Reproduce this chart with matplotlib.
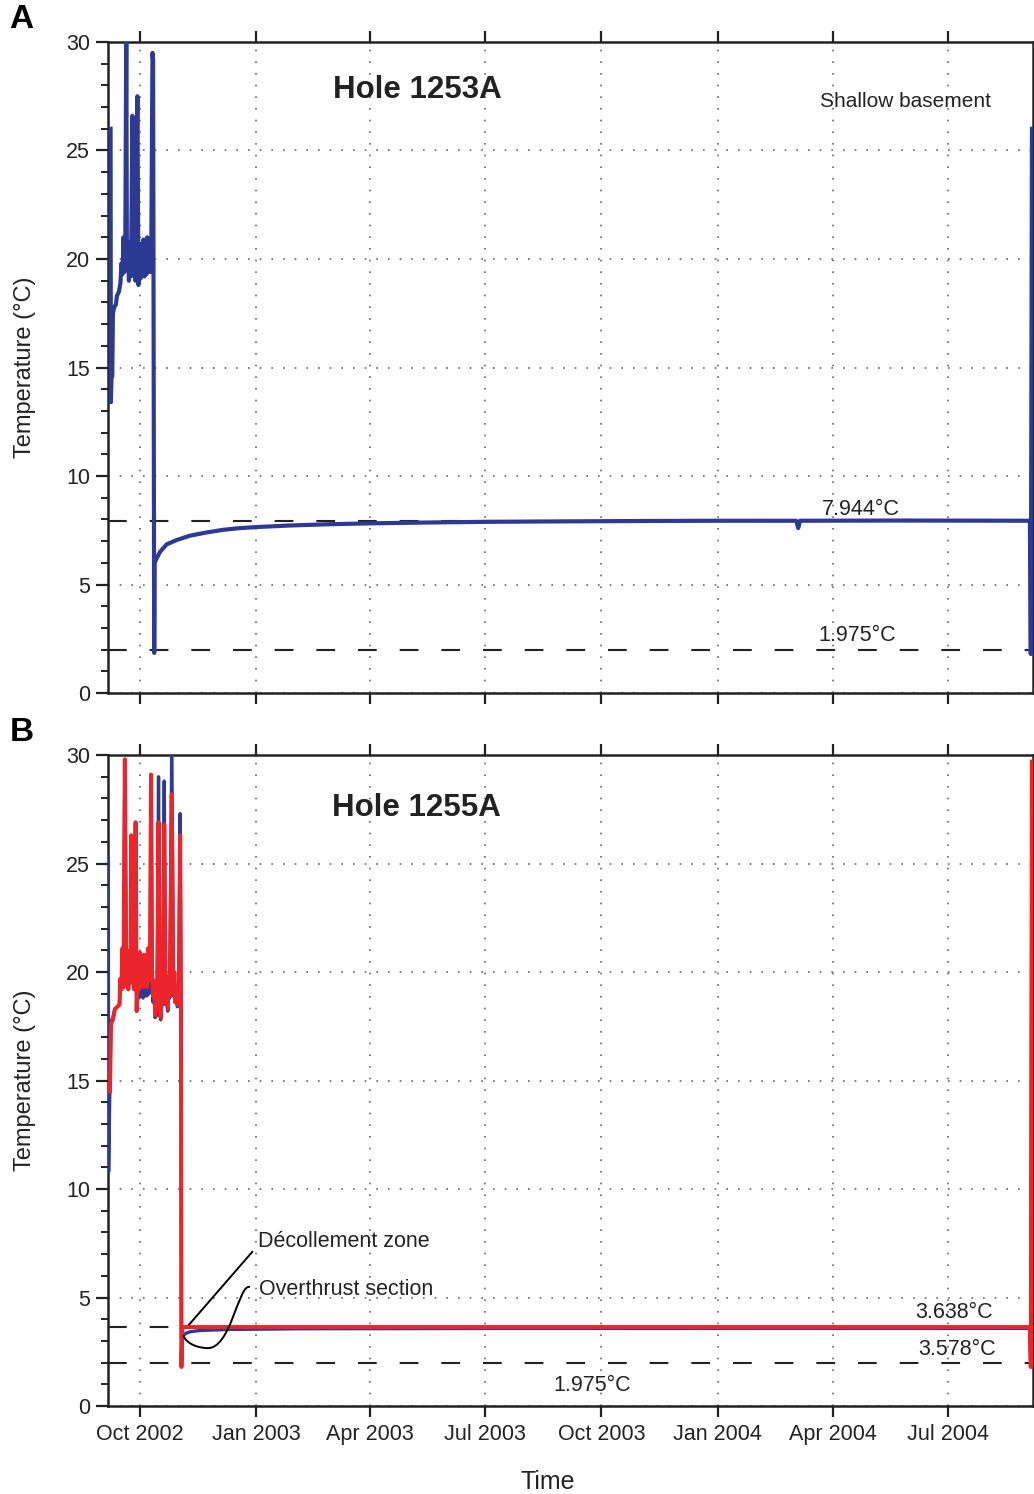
import pandas as pd
import numpy as np
import matplotlib
matplotlib.use('Agg')
import matplotlib.pyplot as plt
import matplotlib.dates as mdates
from matplotlib.path import Path
from matplotlib.patches import PathPatch

plt.rcParams['font.family'] = ['Liberation Sans', 'DejaVu Sans']

# --- Hole 1253A (shallow basement) ---
times_a = ['2002-09-07 19:00', '2002-09-08 00:00', '2002-09-08 12:00', '2002-09-09 03:00',
           '2002-09-09 15:00', '2002-09-10 19:00', '2002-09-12 00:00', '2002-09-12 19:00',
           '2002-09-14 10:00', '2002-09-15 14:00', '2002-09-16 10:00', '2002-09-17 05:00',
           '2002-09-18 00:00', '2002-09-18 17:00', '2002-09-19 10:00', '2002-09-20 05:00',
           '2002-09-20 17:00', '2002-09-21 12:00', '2002-09-22 07:00', '2002-09-23 02:00',
           '2002-09-23 22:00', '2002-09-25 02:00', '2002-09-25 22:00', '2002-09-26 17:00',
           '2002-09-27 10:00', '2002-09-29 00:00', '2002-09-29 19:00', '2002-09-30 14:00',
           '2002-10-01 10:00', '2002-10-02 05:00', '2002-10-03 00:00', '2002-10-03 19:00',
           '2002-10-04 14:00', '2002-10-05 10:00', '2002-10-06 05:00', '2002-10-06 19:00',
           '2002-10-07 14:00', '2002-10-08 10:00', '2002-10-09 05:00', '2002-10-10 00:00',
           '2002-10-10 22:00', '2002-10-11 10:00', '2002-10-12 07:00', '2002-10-12 14:00',
           '2002-10-14 05:00', '2002-10-16 19:00', '2002-10-22 02:00', '2002-10-30 00:00',
           '2002-11-09 12:00', '2002-11-22 17:00', '2002-12-05 14:00', '2002-12-19 00:00',
           '2003-01-01 12:00', '2003-01-27 00:00', '2003-02-28 00:00', '2003-04-01 00:00',
           '2003-05-18 00:00', '2003-07-02 00:00', '2003-08-29 00:00', '2003-11-08 00:00',
           '2004-01-03 00:00', '2004-03-03 00:00', '2004-03-04 14:00', '2004-03-06 00:00',
           '2004-05-24 00:00', '2004-09-03 19:00', '2004-09-04 12:00', '2004-09-05 10:00']
temp_a = [26.0, 13.4, 14.5, 14.6,
          17.5, 17.8, 17.9, 18.3,
          18.5, 18.9, 19.8, 19.3,
          21.0, 19.4, 20.6, 30.5,
          19.6, 20.8, 19.0, 20.3,
          19.2, 26.6, 19.3, 20.5,
          19.0, 27.5, 18.8, 20.4,
          19.1, 20.7, 19.4, 20.9,
          19.2, 20.3, 19.3, 21.0,
          19.5, 20.8, 19.4, 20.6,
          29.5, 29.2, 1.85, 6.0,
          6.2, 6.5, 6.85, 7.05,
          7.25, 7.4, 7.52, 7.6,
          7.65, 7.72, 7.78, 7.82,
          7.86, 7.89, 7.91, 7.93,
          7.94, 7.94, 7.6, 7.94,
          7.95, 7.94, 1.8, 26.0]

# --- Hole 1255A (décollement = red, overthrust = blue) ---
times_b = ['2002-09-08 02:00', '2002-09-09 15:00', '2002-09-11 05:00', '2002-09-13 05:00',
           '2002-09-14 19:00', '2002-09-15 14:00', '2002-09-16 10:00', '2002-09-17 05:00',
           '2002-09-18 00:00', '2002-09-19 02:00', '2002-09-20 05:00', '2002-09-21 00:00',
           '2002-09-21 19:00', '2002-09-22 14:00', '2002-09-23 12:00', '2002-09-24 02:00',
           '2002-09-24 22:00', '2002-09-25 17:00', '2002-09-26 12:00', '2002-09-27 14:00',
           '2002-09-28 10:00', '2002-09-29 05:00', '2002-09-30 05:00', '2002-10-01 00:00',
           '2002-10-01 19:00', '2002-10-02 14:00', '2002-10-03 10:00', '2002-10-04 05:00',
           '2002-10-05 00:00', '2002-10-05 19:00', '2002-10-06 14:00', '2002-10-07 10:00',
           '2002-10-08 05:00', '2002-10-09 00:00', '2002-10-09 19:00', '2002-10-10 14:00',
           '2002-10-11 10:00', '2002-10-12 05:00', '2002-10-13 00:00', '2002-10-13 19:00',
           '2002-10-14 14:00', '2002-10-15 17:00', '2002-10-16 14:00', '2002-10-17 10:00',
           '2002-10-18 05:00', '2002-10-19 00:00', '2002-10-20 05:00', '2002-10-21 07:00',
           '2002-10-22 05:00', '2002-10-23 00:00', '2002-10-23 19:00', '2002-10-24 14:00',
           '2002-10-26 05:00', '2002-10-27 10:00', '2002-10-28 05:00', '2002-10-29 00:00',
           '2002-10-29 19:00', '2002-10-30 14:00', '2002-10-31 17:00', '2002-11-01 19:00',
           '2002-11-02 10:00', '2002-11-02 19:00']
red_b = [17.6, 17.8, 18.3, 18.4,
         18.5, 19.7, 19.2, 21.1,
         19.3, 29.8, 19.4, 21.0,
         19.2, 20.5, 19.5, 26.3,
         19.6, 20.7, 19.2, 26.9,
         18.2, 19.8, 19.2, 20.9,
         19.4, 20.6, 19.3, 20.8,
         19.5, 20.4, 19.3, 21.1,
         19.6, 20.3, 29.1, 20.0,
         18.9, 19.6, 18.0, 19.5,
         18.2, 26.9, 18.5, 17.9,
         19.2, 18.6, 26.8, 18.6,
         19.8, 18.3, 19.5, 18.9,
         28.2, 19.0, 20.0, 18.6,
         19.3, 18.5, 18.9, 26.3,
         18.5, 1.8]
blue_b = [17.7, 17.9, 18.3, 18.4,
          18.5, 19.6, 19.2, 21.0,
          19.3, 29.8, 19.4, 20.8,
          19.2, 20.4, 19.5, 26.3,
          19.6, 20.7, 19.2, 26.9,
          18.2, 19.8, 18.8, 20.5,
          18.9, 20.3, 18.8, 20.4,
          18.9, 20.0, 18.9, 20.6,
          19.0, 19.9, 29.0, 19.7,
          18.6, 19.4, 17.9, 19.3,
          18.0, 29.0, 18.4, 17.8,
          19.0, 18.5, 28.8, 18.5,
          19.6, 18.2, 19.4, 18.8,
          30.5, 18.9, 19.8, 18.6,
          19.1, 18.4, 18.7, 27.3,
          18.4, 3.2]

blue_start_times = ['2002-09-05 23:00', '2002-09-06 06:00', '2002-09-07 07:00']
blue_start_temp = [25.3, 10.8, 15.0]
red_start_times = ['2002-09-07 07:00']
red_start_temp = [14.5]

red_tail_times = ['2002-11-03 14:00', '2004-09-03 19:00', '2004-09-04 12:00', '2004-09-05 10:00']
red_tail_temp = [3.638, 3.638, 1.8, 29.7]
blue_tail_times = ['2002-11-04 05:00', '2002-11-06 10:00', '2002-11-09 12:00', '2002-11-17 12:00',
                   '2002-12-11 00:00', '2003-02-05 00:00', '2003-07-15 00:00', '2004-09-03 19:00',
                   '2004-09-04 12:00', '2004-09-05 10:00']
blue_tail_temp = [3.25, 3.35, 3.42, 3.48, 3.53, 3.56, 3.575, 3.578, 1.8, 28.5]

BLUE = '#2d3a93'
RED = '#ec242c'
INK = '#222222'

def d(s):
    return mdates.date2num(pd.Timestamp(s))

fig = plt.figure(figsize=(10.34, 14.94), dpi=100)
ax_a = fig.add_axes([0.1044, 0.5361, 0.8946, 0.4358])
ax_b = fig.add_axes([0.1044, 0.0589, 0.8946, 0.4357])

for ax in (ax_a, ax_b):
    ax.set_xlim(d('2002-09-05 17:00'), d('2004-09-06 05:00'))
    ax.set_ylim(0, 30)
    ax.set_yticks(np.arange(0, 31, 5))
    ax.set_yticks(np.arange(0, 31, 1), minor=True)
    ax.xaxis.set_major_locator(mdates.MonthLocator(bymonth=[1, 4, 7, 10]))
    ax.xaxis.set_major_formatter(mdates.DateFormatter('%b %Y'))
    ax.tick_params(axis='x', which='major', direction='out', length=8, width=1.6,
                   top=True, labelsize=15.5, pad=5, colors=INK)
    ax.tick_params(axis='y', which='major', direction='out', length=9, width=1.6,
                   labelsize=15.5, pad=4, colors=INK)
    ax.tick_params(axis='y', which='minor', direction='out', length=5, width=1.4, colors=INK)
    ax.grid(True, which='major', color='#666666', linestyle=(0, (1, 6)), linewidth=1.2)
    for s in ax.spines.values():
        s.set_linewidth(1.8)
        s.set_color(INK)
    ax.set_ylabel('Temperature (°C)', fontsize=17, color=INK)
    ax.yaxis.set_label_coords(-0.078, 0.5)

ax_a.tick_params(axis='x', labelbottom=False)

# panel A
ax_a.axhline(7.944, color=INK, lw=1.5, dashes=(9, 11), zorder=2)
ax_a.axhline(1.975, color=INK, lw=1.5, dashes=(9, 11), zorder=2)
ax_a.plot(pd.to_datetime(times_a), temp_a, color=BLUE, lw=3.0, zorder=3)
ax_a.text(0.334, 0.926, 'Hole 1253A', transform=ax_a.transAxes, fontsize=22.5,
          fontweight='bold', ha='center', va='center', color=INK)
ax_a.text(0.862, 0.908, 'Shallow basement', transform=ax_a.transAxes, fontsize=15,
          ha='center', va='center', color=INK)
ax_a.text(d('2004-04-23'), 8.45, '7.944°C', fontsize=15.5, ha='center', va='center', color=INK)
ax_a.text(d('2004-04-20'), 2.65, '1.975°C', fontsize=15.5, ha='center', va='center', color=INK)

# panel B
ax_b.axhline(3.638, color=INK, lw=1.5, dashes=(9, 11), zorder=2)
ax_b.axhline(1.975, color=INK, lw=1.5, dashes=(9, 11), zorder=2)
bt = pd.to_datetime(blue_start_times + times_b + blue_tail_times)
bv = blue_start_temp + blue_b + blue_tail_temp
rt = pd.to_datetime(red_start_times + times_b + red_tail_times)
rv = red_start_temp + red_b + red_tail_temp
ax_b.plot(bt, bv, color=BLUE, lw=2.4, zorder=3)
ax_b.plot(rt, rv, color=RED, lw=2.9, zorder=4)
ax_b.text(0.334, 0.918, 'Hole 1255A', transform=ax_b.transAxes, fontsize=22.5,
          fontweight='bold', ha='center', va='center', color=INK)
ax_b.text(d('2004-07-06'), 4.3, '3.638°C', fontsize=15.5, ha='center', va='center', color=INK)
ax_b.text(d('2004-07-08'), 2.6, '3.578°C', fontsize=15.5, ha='center', va='center', color=INK)
ax_b.text(d('2003-09-24'), 0.95, '1.975°C', fontsize=15.5, ha='center', va='center', color=INK)

ax_b.annotate('Décollement zone', xy=(d('2002-11-06 22:00'), 3.62),
              xytext=(d('2003-01-02 08:00'), 7.6), fontsize=15.5, ha='left', va='center',
              color=INK,
              arrowprops=dict(arrowstyle='-', lw=1.4, color='black', shrinkA=3, shrinkB=0,
                              relpos=(0, 0.3)))
ax_b.text(d('2003-01-03'), 5.35, 'Overthrust section', fontsize=15.5, ha='left', va='center',
          color=INK)
verts = [(d('2002-12-27'), 5.48), (d('2002-12-18'), 5.7), (d('2002-12-12'), 2.55),
         (d('2002-11-22 17:00'), 2.67),
         (d('2002-11-13'), 2.7), (d('2002-11-06'), 2.95), (d('2002-11-04 05:00'), 3.27)]
codes = [Path.MOVETO, Path.CURVE4, Path.CURVE4, Path.CURVE4, Path.CURVE4, Path.CURVE4, Path.CURVE4]
ax_b.add_patch(PathPatch(Path(verts, codes), fill=False, lw=1.4, color='black', zorder=5))

ax_b.set_xlabel('Time', fontsize=18, color=INK)
ax_b.xaxis.set_label_coords(0.475, -0.098)

fig.text(0.021, 0.987, 'A', fontsize=24, fontweight='bold', ha='center', va='center')
fig.text(0.021, 0.51, 'B', fontsize=24, fontweight='bold', ha='center', va='center')

fig.savefig('out.png', dpi=100)
